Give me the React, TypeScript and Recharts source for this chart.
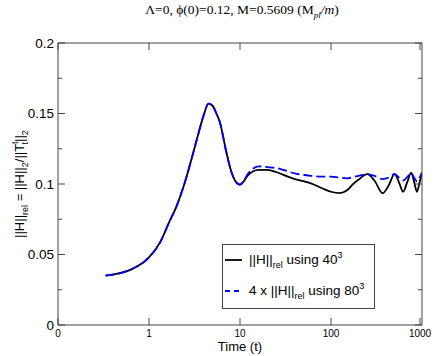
import React from "react";
import { LineChart, Line, XAxis, YAxis, Legend, Label } from "recharts";

// time (log axis)
const times = [
  0.333, 0.667, 1, 1.333, 1.667, 2, 2.5, 3, 3.5, 4, 4.5, 5, 5.5, 6, 7, 8, 9, 10, 11, 12, 14, 16, 20,
  25, 30, 40, 50, 60, 80, 100, 125, 150, 175, 200, 250, 300, 370, 430, 500, 560, 620, 690, 760,
  820, 880, 940, 1000,
];
// ||H||rel using 40^3
const coarse40 = [
  0.035, 0.04, 0.048, 0.059, 0.073, 0.084, 0.102, 0.12, 0.136, 0.149, 0.157, 0.1555, 0.15, 0.144,
  0.124, 0.109, 0.1015, 0.0995, 0.102, 0.1055, 0.109, 0.11, 0.11, 0.1085, 0.1065, 0.1035, 0.102,
  0.1005, 0.097, 0.0945, 0.0935, 0.0955, 0.1, 0.103, 0.107, 0.1025, 0.0935, 0.099, 0.107, 0.101,
  0.0945, 0.1015, 0.108, 0.1015, 0.0945, 0.101, 0.108,
];
// 4 x ||H||rel using 80^3
const fine80 = [
  0.035, 0.04, 0.048, 0.059, 0.073, 0.084, 0.102, 0.12, 0.136, 0.149, 0.157, 0.1555, 0.15, 0.144,
  0.124, 0.109, 0.1015, 0.0995, 0.102, 0.1065, 0.111, 0.1125, 0.112, 0.1113, 0.11, 0.1075, 0.1065,
  0.1058, 0.1053, 0.1053, 0.1045, 0.104, 0.105, 0.1057, 0.107, 0.1057, 0.1035, 0.1045, 0.107,
  0.1045, 0.1025, 0.105, 0.1078, 0.1045, 0.102, 0.1045, 0.108,
];
const xTicks = [0.1, 1, 10, 100, 1000];
const xTickLabels = ["0", "1", "10", "100", "1000"];
const yTicks = [0, 0.025, 0.05, 0.075, 0.1, 0.125, 0.15, 0.175, 0.2];

const data = times.map((t, i) => ({ t, coarse: coarse40[i], fine: fine80[i] }));

const box = { left: 58, top: 43, right: 422, bottom: 325 };
const AXIS = "#444";
const SANS = "'Liberation Sans', Arial, sans-serif";
const SERIF = "'Liberation Serif', 'Times New Roman', serif";

const isMajorY = (v: number) => Math.abs(v / 0.05 - Math.round(v / 0.05)) < 1e-6;

function LeftTick({ y, payload }: any) {
  const major = isMajorY(payload.value);
  return (
    <g>
      <line x1={box.left} x2={box.left + (major ? 7 : 4)} y1={y} y2={y} stroke={AXIS} />
      {major && (
        <text x={box.left - 4} y={y} dy="0.35em" textAnchor="end" fontSize={13.5} fontFamily={SANS} fill="#000">
          {String(payload.value)}
        </text>
      )}
    </g>
  );
}

function RightTick({ y, payload }: any) {
  const major = isMajorY(payload.value);
  return <line x1={box.right} x2={box.right - (major ? 7 : 4)} y1={y} y2={y} stroke={AXIS} />;
}

function BottomTick({ x, payload }: any) {
  const i = xTicks.indexOf(payload.value);
  return (
    <g>
      <line x1={x} x2={x} y1={box.bottom} y2={box.bottom - 7} stroke={AXIS} />
      <text x={x} y={box.bottom + 11.5} textAnchor="middle" fontSize={10} fontFamily={SANS} fill="#000">
        {xTickLabels[i]}
      </text>
    </g>
  );
}

function TopTick({ x }: any) {
  return <line x1={x} x2={x} y1={box.top} y2={box.top + 7} stroke={AXIS} />;
}

const xTitle = () => (
  <text x={240} y={350.5} textAnchor="middle" fontSize={13} fontFamily={SANS} fill="#000">
    Time (t)
  </text>
);

const yTitle = () => (
  <text x={24} y={184} transform="rotate(-90, 24, 184)" textAnchor="middle" fontSize={13} fontFamily={SANS} fill="#000">
    <tspan>||H||</tspan>
    <tspan dy={4} fontSize={9}>rel</tspan>
    <tspan dy={-4}> = ||H||</tspan>
    <tspan dy={4} fontSize={9}>2</tspan>
    <tspan dy={-4}>/||T</tspan>
    <tspan dy={-6} fontSize={9}>t</tspan>
    <tspan dx={-3} dy={10} fontSize={9}>t</tspan>
    <tspan dy={-4}>||</tspan>
    <tspan dy={4} fontSize={9}>2</tspan>
  </text>
);

const chartTitle = () => (
  <text x={242} y={14} textAnchor="middle" fontSize={13.5} fontFamily={SERIF} fill="#000">
    <tspan>Λ=0, ϕ(0)=0.12, M=0.5609 (M</tspan>
    <tspan dy={4} fontSize={9} fontStyle="italic">pl</tspan>
    <tspan dy={-4} fontStyle="italic">/m</tspan>
    <tspan>)</tspan>
  </text>
);

function LegendBox() {
  return (
    <svg width={153} height={65}>
      <rect x={0.5} y={0.5} width={152} height={64} fill="#fff" stroke={AXIS} />
      <line x1={3} x2={20} y1={16} y2={16} stroke="#000" strokeWidth={1.8} />
      <text x={27} y={20} fontSize={13.5} fontFamily={SANS} fill="#000">
        <tspan>||H||</tspan>
        <tspan dy={4} fontSize={9}>rel</tspan>
        <tspan dy={-4}> using 40</tspan>
        <tspan dy={-6} fontSize={9}>3</tspan>
      </text>
      <line x1={3} x2={20} y1={47} y2={47} stroke="#0000ff" strokeWidth={1.8} strokeDasharray="5 4" />
      <text x={27} y={51} fontSize={13.5} fontFamily={SANS} fill="#000">
        <tspan>4 x ||H||</tspan>
        <tspan dy={4} fontSize={9}>rel</tspan>
        <tspan dy={-4}> using 80</tspan>
        <tspan dy={-6} fontSize={9}>3</tspan>
      </text>
    </svg>
  );
}

export default function App() {
  return (
    <div style={{ position: "absolute", left: 0, top: 0, width: 436, height: 356, background: "#fff" }}>
      <LineChart width={436} height={356} data={data} margin={{ top: 33, right: 4, bottom: 6, left: 18 }}>
        <XAxis
          xAxisId="bottom"
          dataKey="t"
          type="number"
          scale="log"
          domain={[0.1, 1000]}
          allowDataOverflow
          ticks={xTicks}
          tick={<BottomTick />}
          tickLine={false}
          axisLine={{ stroke: AXIS }}
          height={25}
        >
          <Label content={xTitle} />
        </XAxis>
        <XAxis
          xAxisId="top"
          orientation="top"
          dataKey="t"
          type="number"
          scale="log"
          domain={[0.1, 1000]}
          allowDataOverflow
          ticks={xTicks}
          tick={<TopTick />}
          tickLine={false}
          axisLine={{ stroke: AXIS }}
          height={10}
        >
          <Label content={chartTitle} />
        </XAxis>
        <YAxis
          yAxisId="left"
          type="number"
          domain={[0, 0.2]}
          allowDataOverflow
          ticks={yTicks}
          tick={<LeftTick />}
          tickLine={false}
          axisLine={{ stroke: AXIS }}
          width={40}
        >
          <Label content={yTitle} />
        </YAxis>
        <YAxis
          yAxisId="right"
          orientation="right"
          type="number"
          domain={[0, 0.2]}
          allowDataOverflow
          ticks={yTicks}
          tick={<RightTick />}
          tickLine={false}
          axisLine={{ stroke: AXIS }}
          width={10}
        />
        <Line
          xAxisId="bottom"
          yAxisId="left"
          type="monotone"
          dataKey="coarse"
          stroke="#000"
          strokeWidth={1.8}
          dot={false}
          isAnimationActive={false}
        />
        <Line
          xAxisId="bottom"
          yAxisId="left"
          type="monotone"
          dataKey="fine"
          stroke="#0000ff"
          strokeWidth={1.8}
          strokeDasharray="9 4"
          dot={false}
          isAnimationActive={false}
        />
        <Legend
          layout="horizontal"
          verticalAlign="middle"
          align="center"
          content={<LegendBox />}
          wrapperStyle={{ left: 222, top: 244, width: 153, height: 65 }}
        />
      </LineChart>
    </div>
  );
}
